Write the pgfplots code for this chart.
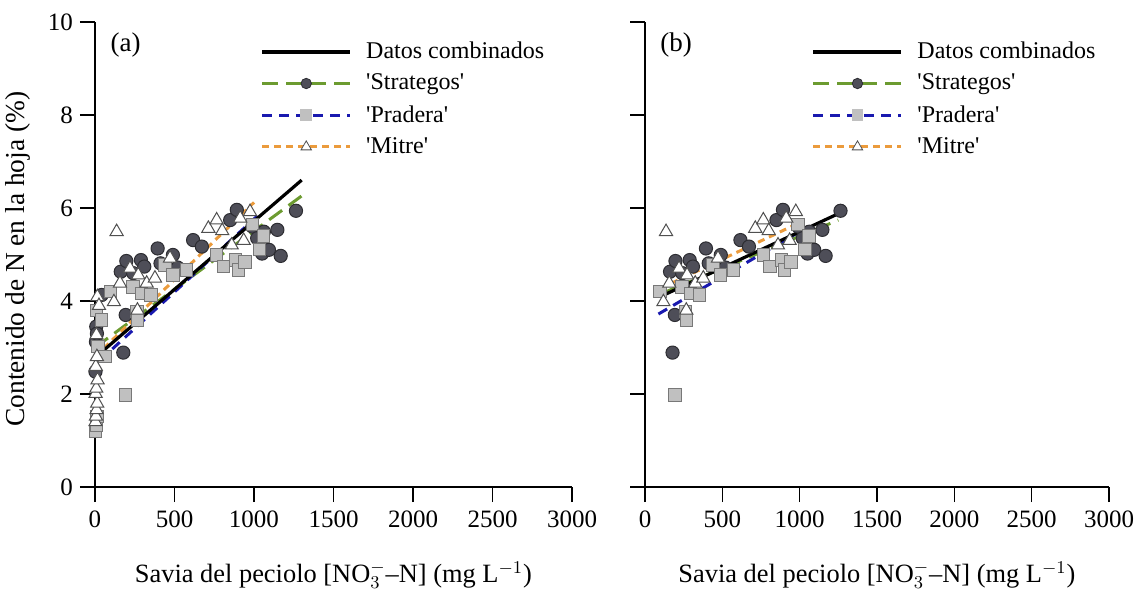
\documentclass[border=0pt]{standalone}
\usepackage{fontspec}
\setmainfont{Liberation Serif}[Ligatures=TeXOff]
\usepackage{pgfplots}
\pgfplotsset{compat=1.18}
\usepackage{pgfplotstable}

\definecolor{sfill}{RGB}{78,78,88}
\definecolor{sdraw}{RGB}{45,45,50}
\definecolor{pfill}{RGB}{192,192,192}
\definecolor{pdraw}{RGB}{120,120,120}
\definecolor{tdraw}{RGB}{80,80,80}
\definecolor{sgreen}{RGB}{108,155,48}
\definecolor{pblue}{RGB}{25,25,175}
\definecolor{morange}{RGB}{235,155,60}

% Strategos
\pgfplotstableread{
x y
3 2.48
6 3.12
8 3.45
12 3.30
42 4.13
162 4.63
178 2.89
193 3.70
197 4.86
240 4.60
289 4.88
310 4.74
394 5.13
412 4.81
490 4.99
520 4.72
617 5.31
672 5.17
850 5.74
892 5.96
990 5.60
1020 5.35
1051 5.02
1062 5.49
1094 5.10
1147 5.53
1168 4.97
1264 5.94
}\strat

% Pradera
\pgfplotstableread{
x y
5 1.19
8 1.33
12 1.52
18 3.02
10 3.80
40 3.59
63 2.80
97 4.20
193 1.98
240 4.30
263 3.77
267 3.59
293 4.16
352 4.13
440 4.77
490 4.56
574 4.67
765 4.99
808 4.74
882 4.88
903 4.67
944 4.84
990 5.65
1035 5.11
1060 5.40
}\prad

% Mitre
\pgfplotstableread{
x y
3 1.40
6 1.52
10 1.66
14 1.80
4 2.01
8 2.12
16 2.30
5 2.59
12 2.80
9 3.27
15 4.09
25 3.90
119 3.98
136 5.49
157 4.38
220 4.70
267 3.80
272 4.56
325 4.38
377 4.49
472 4.92
713 5.56
765 5.74
800 5.51
860 5.20
913 5.78
935 5.30
975 5.92
}\mitre

\pgfplotsset{
  smark/.style={only marks, mark=*, mark size=3.3pt, mark options={solid, fill=sfill, draw=sdraw, line width=0.5pt}},
  pmark/.style={only marks, mark=square*, mark size=3.1pt, mark options={solid, fill=pfill, draw=pdraw, line width=0.5pt}},
  tmark/.style={only marks, mark=triangle*, mark size=3.8pt, mark options={solid, fill=white, draw=tdraw, line width=0.5pt}},
  cline/.style={black, line width=1.6pt, solid},
  sline/.style={sgreen, line width=1.5pt, dash pattern=on 8pt off 4pt},
  pline/.style={pblue, line width=1.5pt, dash pattern=on 5pt off 3.5pt},
  mline/.style={morange, line width=1.5pt, dash pattern=on 3.5pt off 2.5pt},
  panel/.style={
    scale only axis,
    xmin=0, xmax=3000, ymin=0, ymax=10,
    axis x line*=bottom, axis y line*=left,
    axis line style={line width=0.8pt},
    xtick={0,500,...,3000}, ytick={0,2,...,10},
    tick align=outside, major tick length=7.5pt,
    tick style={black, line width=0.8pt},
    /pgf/number format/set thousands separator={},
    /pgf/number format/assume math mode=true,
    ticklabel style={font=\fontsize{12.5}{15}\selectfont},
    xticklabel style={yshift=-1pt},
    label style={font=\fontsize{13.2}{15}\selectfont},
    clip=false,
    legend cell align=left,
    legend style={draw=none, fill=none, anchor=north west, at={(0.333,0.975)},
      font=\fontsize{12}{14}\selectfont, row sep=2.2pt,
      /tikz/every even column/.append style={column sep=6pt},
      /tikz/every odd column/.append style={column sep=5pt}},
    legend image code/.code={\draw[mark repeat=2, mark phase=2, #1] plot coordinates {(0pt,0pt) (22pt,0pt) (44pt,0pt)};},
  },
}

\begin{document}
\begin{tikzpicture}
\path[use as bounding box] (-47.5pt,-56pt) rectangle (522.5pt,243.5pt);

\begin{axis}[panel, width=238.5pt, height=232.5pt, at={(0pt,0pt)}, anchor=south west,
  xlabel={Savia del peciolo [NO$_{3}^{-}$–N] (mg L$^{-1}$)},
  ylabel={Contenido de N en la hoja (\%)},
  xlabel style={at={(axis description cs:0.5,-0.19)}, anchor=center},
  ylabel style={at={(axis description cs:-0.161,0.49)}, anchor=center, font=\fontsize{13.7}{15}\selectfont},
]
\addlegendimage{cline, line width=2pt}
\addlegendentry{Datos combinados}
\addlegendimage{sline, mark=*, mark size=2.6pt, mark options={solid, fill=sfill, draw=sdraw, line width=0.4pt}}
\addlegendentry{'Strategos'}
\addlegendimage{pline, mark=square*, mark size=2.2pt, mark options={solid, fill=pfill, draw=pfill}}
\addlegendentry{'Pradera'}
\addlegendimage{mline, mark=triangle*, mark size=3pt, mark options={solid, fill=white, draw=tdraw, line width=0.4pt}}
\addlegendentry{'Mitre'}

\addplot[smark, forget plot] table[x=x, y=y] {\strat};
\addplot[pmark, forget plot] table[x=x, y=y] {\prad};
\addplot[tmark, forget plot] table[x=x, y=y] {\mitre};

\addplot[sline, forget plot] coordinates {(0,3.00) (1300,6.26)};
\addplot[pline, forget plot] coordinates {(30,2.72) (1050,5.92)};
\addplot[mline, forget plot] coordinates {(0,2.80) (1000,6.12)};
\addplot[cline, forget plot] coordinates {(0,2.78) (1300,6.60)};

\node[anchor=west, font=\fontsize{13.5}{15}\selectfont] at (rel axis cs:0.018,0.95) {(a)};
\end{axis}

\begin{axis}[panel, width=232pt, height=232.5pt, at={(275pt,0pt)}, anchor=south west,
  yticklabels={},
  xlabel={Savia del peciolo [NO$_{3}^{-}$–N] (mg L$^{-1}$)},
  xlabel style={at={(axis description cs:0.5,-0.19)}, anchor=center},
  legend style={at={(0.345,0.975)}},
]
\addlegendimage{cline, line width=2pt}
\addlegendentry{Datos combinados}
\addlegendimage{sline, mark=*, mark size=2.6pt, mark options={solid, fill=sfill, draw=sdraw, line width=0.4pt}}
\addlegendentry{'Strategos'}
\addlegendimage{pline, mark=square*, mark size=2.2pt, mark options={solid, fill=pfill, draw=pfill}}
\addlegendentry{'Pradera'}
\addlegendimage{mline, mark=triangle*, mark size=3pt, mark options={solid, fill=white, draw=tdraw, line width=0.4pt}}
\addlegendentry{'Mitre'}

\addplot[smark, forget plot, restrict x to domain=80:3000] table[x=x, y=y] {\strat};
\addplot[pmark, forget plot, restrict x to domain=80:3000] table[x=x, y=y] {\prad};
\addplot[tmark, forget plot, restrict x to domain=80:3000] table[x=x, y=y] {\mitre};

\addplot[sline, forget plot] coordinates {(100,4.15) (1250,5.74)};
\addplot[pline, forget plot] coordinates {(87,3.72) (1035,5.56)};
\addplot[mline, forget plot] coordinates {(100,4.27) (990,5.67)};
\addplot[cline, forget plot] coordinates {(97,4.09) (1290,5.94)};

\node[anchor=west, font=\fontsize{13.5}{15}\selectfont] at (rel axis cs:0.018,0.95) {(b)};
\end{axis}
\end{tikzpicture}
\end{document}
